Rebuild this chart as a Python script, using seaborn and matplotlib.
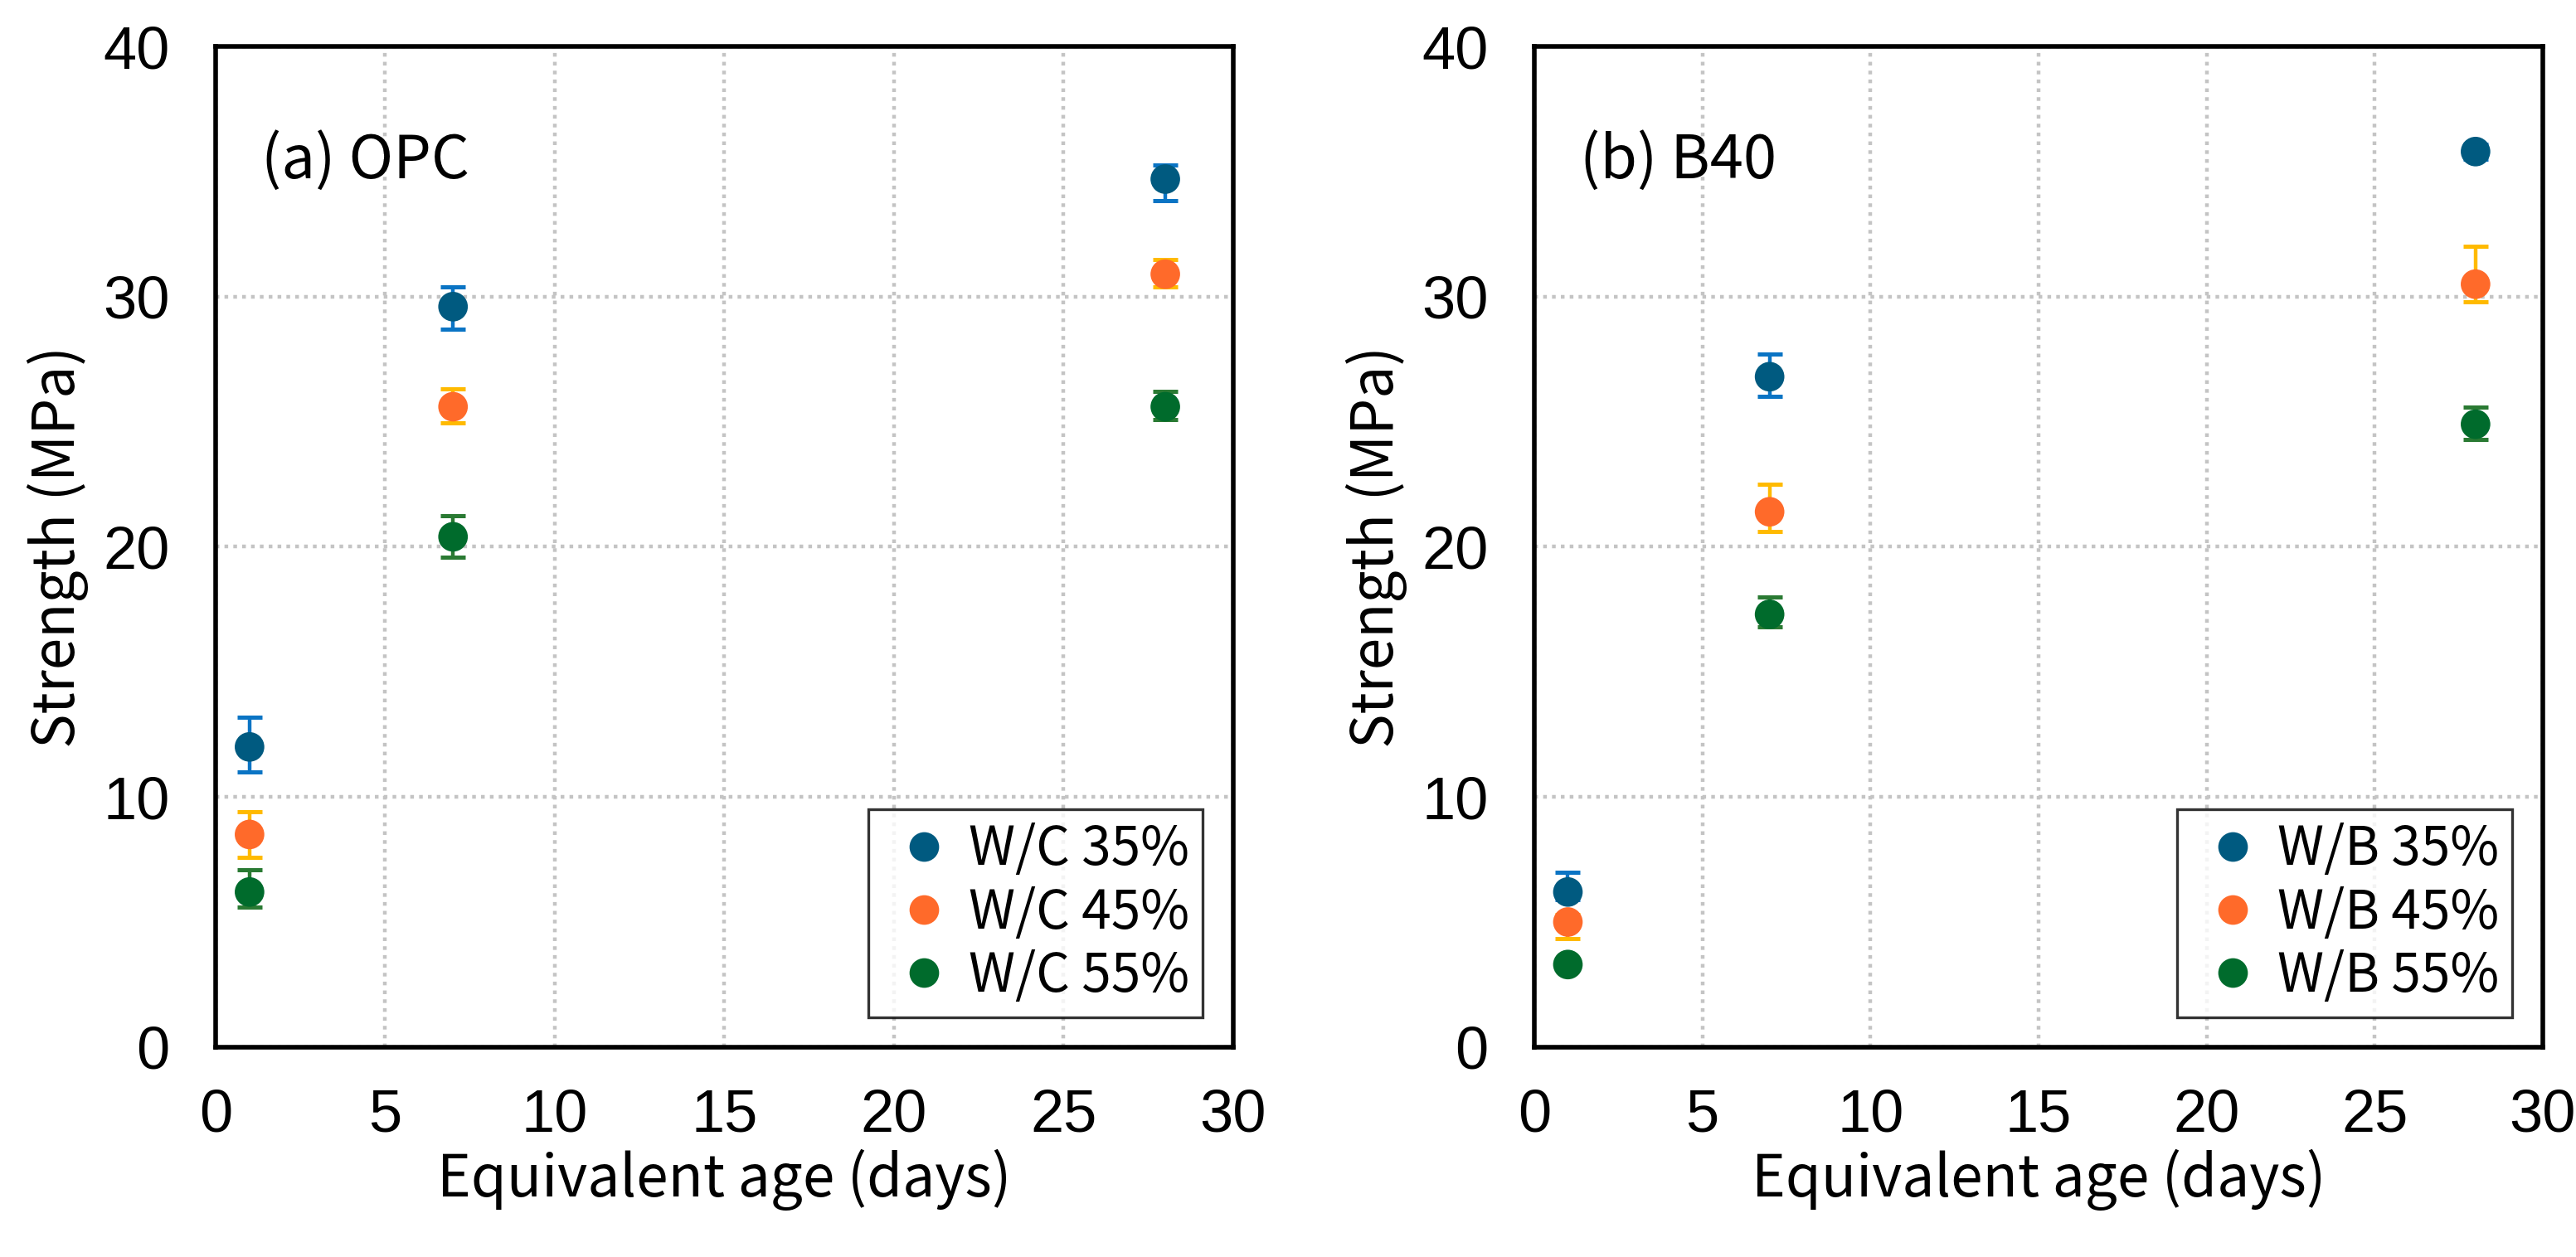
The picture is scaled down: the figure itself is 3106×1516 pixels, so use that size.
import numpy as np
import pandas as pd
import matplotlib
matplotlib.use("Agg")
import matplotlib.pyplot as plt
from matplotlib.ticker import MultipleLocator
import seaborn as sns

# ---------------- data ----------------
ages = [1, 7, 28]
mix_levels = ["35%", "45%", "55%"]

# (a) OPC
opc_35 = [12.0, 29.6, 34.7]
opc_45 = [8.5, 25.6, 30.9]
opc_55 = [6.2, 20.4, 25.6]
opc_35_lo = [1.0, 0.9, 0.85]
opc_35_hi = [1.2, 0.8, 0.55]
opc_45_lo = [0.9, 0.65, 0.5]
opc_45_hi = [0.9, 0.7, 0.6]
opc_55_lo = [0.6, 0.8, 0.5]
opc_55_hi = [0.9, 0.85, 0.6]

# (b) B40
b40_35 = [6.2, 26.8, 35.8]
b40_45 = [5.0, 21.4, 30.5]
b40_55 = [3.3, 17.3, 24.9]
b40_35_lo = [0.3, 0.8, 0.3]
b40_35_hi = [0.8, 0.9, 0.3]
b40_45_lo = [0.65, 0.8, 0.7]
b40_45_hi = [0.3, 1.1, 1.5]
b40_55_lo = [0.2, 0.5, 0.6]
b40_55_hi = [0.2, 0.7, 0.7]

marker_colors = ["#005A80", "#FF6A2A", "#006B2C"]
err_colors = ["#0A74C4", "#FFBA00", "#2A7A33"]

panels = [
    dict(title="(a) OPC", prefix="W/C",
         vals=[opc_35, opc_45, opc_55],
         lo=[opc_35_lo, opc_45_lo, opc_55_lo],
         hi=[opc_35_hi, opc_45_hi, opc_55_hi]),
    dict(title="(b) B40", prefix="W/B",
         vals=[b40_35, b40_45, b40_55],
         lo=[b40_35_lo, b40_45_lo, b40_55_lo],
         hi=[b40_35_hi, b40_45_hi, b40_55_hi]),
]

sns.set_theme(style="white")
plt.rcParams["font.family"] = ["Liberation Sans", "DejaVu Sans"]
plt.rcParams["text.color"] = "black"
plt.rcParams["axes.labelcolor"] = "black"
plt.rcParams["xtick.color"] = "black"
plt.rcParams["ytick.color"] = "black"
label_font = ["Noto Sans CJK KR", "Liberation Sans", "DejaVu Sans"]

fig = plt.figure(figsize=(15.53, 7.58), dpi=200)
ax_rects = [[0.0837, 0.167, 0.3950, 0.796], [0.5956, 0.167, 0.3915, 0.796]]

for rect, p in zip(ax_rects, panels):
    ax = fig.add_axes(rect)
    rows = []
    for lvl, v in zip(mix_levels, p["vals"]):
        for a, s in zip(ages, v):
            rows.append({"age": a, "strength": s, "mix": f"{p['prefix']} {lvl}"})
    df = pd.DataFrame(rows)
    labels = [f"{p['prefix']} {lvl}" for lvl in mix_levels]

    for i, (v, lo, hi) in enumerate(zip(p["vals"], p["lo"], p["hi"])):
        ax.errorbar(ages, v, yerr=[lo, hi], fmt="none", ecolor=err_colors[i],
                    elinewidth=1.6, capsize=5.5, capthick=1.8, zorder=3)

    sns.scatterplot(data=df, x="age", y="strength", hue="mix", hue_order=labels,
                    palette=marker_colors, s=165, edgecolor="none", linewidth=0,
                    ax=ax, zorder=4, legend=True)

    ax.set_xlim(0, 30)
    ax.set_ylim(0, 40)
    ax.xaxis.set_major_locator(MultipleLocator(5))
    ax.xaxis.set_minor_locator(MultipleLocator(2.5))
    ax.yaxis.set_major_locator(MultipleLocator(10))
    ax.yaxis.set_minor_locator(MultipleLocator(5))
    ax.tick_params(which="both", direction="in", length=4.5, width=1.2,
                   color="black", labelsize=26, labelcolor="black")
    ax.tick_params(which="minor", labelbottom=False, labelleft=False)
    ax.tick_params(axis="y", which="major", pad=20)
    ax.tick_params(axis="x", which="major", pad=18)
    ax.grid(True, which="major", color="#C4C4C4", linestyle=(0, (1, 1.4)),
            linewidth=1.6)
    for sp in ax.spines.values():
        sp.set_color("black")
        sp.set_linewidth(2.0)
        sp.set_visible(True)

    ax.set_xlabel("Equivalent age (days)", fontsize=25, family=label_font, labelpad=2)
    ax.set_ylabel("Strength (MPa)", fontsize=25, family=label_font, labelpad=6)
    ax.text(0.045, 0.885, p["title"], transform=ax.transAxes, fontsize=26,
            family=label_font, va="center", ha="left")

    leg = ax.legend(loc="lower right", bbox_to_anchor=(0.97, 0.03),
                    frameon=True, fancybox=False, edgecolor="black",
                    prop={"family": label_font, "size": 23},
                    handletextpad=0.05, borderpad=0.25, labelspacing=0.15,
                    handlelength=1.6, markerscale=1.0, borderaxespad=0)
    leg.get_frame().set_linewidth(1.2)

fig.savefig("out.png", dpi=200, facecolor="white")
